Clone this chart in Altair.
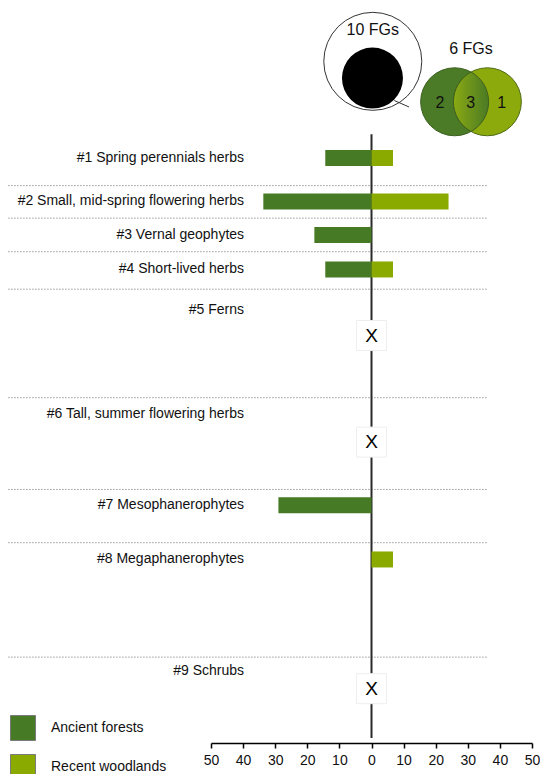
import altair as alt
import pandas as pd

# ---------------- data ----------------
groups = [
    "#1 Spring perennials herbs",
    "#2 Small, mid-spring flowering herbs",
    "#3 Vernal geophytes",
    "#4 Short-lived herbs",
    "#5 Ferns",
    "#6 Tall, summer flowering herbs",
    "#7 Mesophanerophytes",
    "#8 Megaphanerophytes",
    "#9 Schrubs",
]
ancient = [14.4, 33.7, 17.8, 14.4, None, None, 29.0, 0, None]
recent = [6.7, 24.0, 0, 6.7, None, None, 0, 6.7, None]
series = ["Ancient forests", "Recent woodlands"]
tick_values = [-50, -40, -30, -20, -10, 0, 10, 20, 30, 40, 50]

# ---------------- layout (vertical row positions, separate from values) ----------------
label_row = [155, 199, 233, 268, 309, 415, 507, 562, 675]
marker_row = [None, None, None, None, 335, 443, None, None, 693]
separator_row = [183, 216, 250, 288, 398, 491, 545, 661]

DARK = "#477A24"
LIGHT = "#8AAA00"
FONT = "Liberation Sans"
TXT = "#111111"

xscale = alt.Scale(domain=[-50, 50], nice=False, zero=False)
yscale = alt.Scale(domain=[8, 743], reverse=True, nice=False, zero=False)
xaxis = alt.Axis(
    values=tick_values, labelExpr="abs(datum.value)", grid=False,
    domainColor="#000000", domainWidth=1.5, tickColor="#000000", tickWidth=1.5,
    tickSize=5, labelFontSize=14, labelFont=FONT, labelColor=TXT,
    labelFlush=False, labelOverlap=False, labelPadding=5,
)


def X(f):
    return alt.X(f, type="quantitative", scale=xscale, axis=xaxis, title=None)


def Y(f):
    return alt.Y(f, type="quantitative", scale=yscale, axis=None)


# bars
bar_rows = []
for g, a, r, yrow in zip(groups, ancient, recent, label_row):
    if a:
        bar_rows.append({"group": g, "series": series[0], "x": -a, "x2": 0, "y": yrow})
    if r:
        bar_rows.append({"group": g, "series": series[1], "x": 0, "x2": r, "y": yrow})
bars_df = pd.DataFrame(bar_rows)

labels_df = pd.DataFrame({"group": groups, "x": [-39.7] * len(groups), "y": label_row})
marker_df = pd.DataFrame(
    [{"group": g, "x": 0, "y": m, "t": "X"} for g, m in zip(groups, marker_row) if m is not None]
)
sep_df = pd.DataFrame({"x": [-113.2] * len(separator_row), "x2": [36.0] * len(separator_row),
                       "y": separator_row})
zero_df = pd.DataFrame({"x": [0], "y": [131], "y2": [743]})

separators = alt.Chart(sep_df).mark_rule(color="#9a9a9a", strokeWidth=1, strokeDash=[1.5, 1.5]).encode(
    x=X("x"), x2="x2", y=Y("y"))
zero_line = alt.Chart(zero_df).mark_rule(color="#2a2a2a", strokeWidth=2).encode(
    x=X("x"), y=Y("y"), y2="y2")
bars = alt.Chart(bars_df).mark_bar(size=16, orient="horizontal", opacity=1).encode(
    x=X("x"), x2="x2", y=Y("y"),
    color=alt.Color("series:N", scale=alt.Scale(domain=series, range=[DARK, LIGHT]),
                    legend=alt.Legend(orient="none", legendX=-201, legendY=707, title=None,
                                      symbolType="square", symbolSize=625,
                                      symbolStrokeColor="#7a7a7a", symbolStrokeWidth=1,
                                      symbolOpacity=1, labelFontSize=14, labelFont=FONT,
                                      labelColor=TXT, labelOffset=15, rowPadding=9, padding=0)),
)
boxes = alt.Chart(marker_df).mark_square(size=900, fill="white", stroke="#eeeeee", strokeWidth=1,
                                          opacity=1).encode(x=X("x"), y=Y("y"))
xmarks = alt.Chart(marker_df).mark_text(fontSize=19, font=FONT, color="#000000", baseline="middle",
                                        align="center").encode(x=X("x"), y=Y("y"), text="t:N")
labels = alt.Chart(labels_df).mark_text(fontSize=14, font=FONT, color=TXT, align="right",
                                        baseline="middle").encode(x=X("x"), y=Y("y"), text="group:N")

# ---------------- Venn / pool annotation ----------------
pool_df = pd.DataFrame({"x": [0.4], "y": [57]})
core_df = pd.DataFrame({"x": [0.3], "y": [74]})
tail_df = pd.DataFrame({"x": [7.1], "x2": [11.7], "y": [96.7], "y2": [103.3]})
t10_df = pd.DataFrame({"x": [0.4], "y": [25], "t": ["10 FGs"]})
t6_df = pd.DataFrame({"x": [31.0], "y": [45], "t": ["6 FGs"]})
venn_left_df = pd.DataFrame({"x": [25.9], "y": [98]})
venn_right_df = pd.DataFrame({"x": [36.1], "y": [98]})
lens_df = pd.DataFrame({"x": [31.0], "y": [98]})
venn_num_df = pd.DataFrame({"x": [21.3, 30.9, 40.6], "y": [99, 99, 99], "t": ["2", "3", "1"]})

pool = alt.Chart(pool_df).mark_point(shape="circle", filled=True, fill="white", stroke="#333333",
                                     strokeWidth=1, opacity=1, size=9604).encode(x=X("x"), y=Y("y"))
core = alt.Chart(core_df).mark_circle(size=3721, color="#000000", opacity=1).encode(x=X("x"), y=Y("y"))
tail = alt.Chart(tail_df).mark_rule(color="#333333", strokeWidth=1).encode(
    x=X("x"), x2="x2", y=Y("y"), y2="y2")
t10 = alt.Chart(t10_df).mark_text(fontSize=16, font=FONT, color=TXT).encode(x=X("x"), y=Y("y"), text="t:N")
t6 = alt.Chart(t6_df).mark_text(fontSize=16, font=FONT, color=TXT).encode(x=X("x"), y=Y("y"), text="t:N")
venn_left = alt.Chart(venn_left_df).mark_circle(size=4624, color="#4B7B27", opacity=1, stroke="#3c5f1f",
                                                strokeWidth=1).encode(x=X("x"), y=Y("y"))
venn_right = alt.Chart(venn_right_df).mark_circle(size=4624, color="#8DAA0C", opacity=1, stroke="#4f6a14",
                                                  strokeWidth=1).encode(x=X("x"), y=Y("y"))
lens_grad = alt.LinearGradient(
    gradient="linear",
    stops=[alt.GradientStop(color="#8BAA12", offset=0), alt.GradientStop(color="#4A7A25", offset=1)],
    x1=0, x2=1, y1=0, y2=0,
)
lens = alt.Chart(lens_df).mark_point(
    shape="M0,-0.876A1,1,0,0,1,0,0.876A1,1,0,0,1,0,-0.876Z", size=4624, filled=True,
    fill=lens_grad, stroke="#3c5f1f", strokeWidth=1, opacity=1,
).encode(x=X("x"), y=Y("y"))
venn_nums = alt.Chart(venn_num_df).mark_text(fontSize=16, font=FONT, color=TXT, baseline="middle").encode(
    x=X("x"), y=Y("y"), text="t:N")

chart = alt.layer(
    separators, zero_line, bars, boxes, xmarks, labels,
    pool, core, tail, t10, venn_left, venn_right, lens, venn_nums, t6,
).properties(
    width=321, height=735,
    autosize=alt.AutoSizeParams(type="none"),
    padding={"left": 203, "top": 0, "right": 8, "bottom": 31},
    background="white",
).configure_view(stroke=None)

chart.save("out.html", embed_options={"renderer": "svg", "actions": False})
